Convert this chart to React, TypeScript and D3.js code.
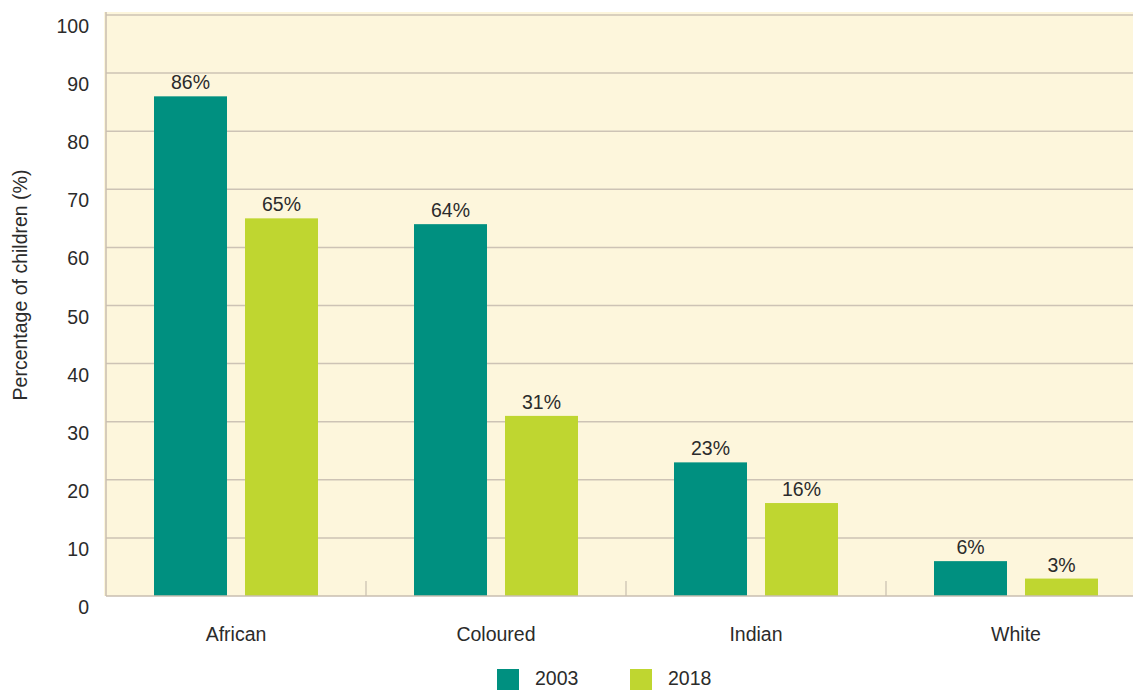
import React from "react";
import * as d3 from "d3";

const categories = ["African", "Coloured", "Indian", "White"];
const series = ["2003", "2018"];
const values2003 = [86, 64, 23, 6];
const values2018 = [65, 31, 16, 3];
const yTicks = [0, 10, 20, 30, 40, 50, 60, 70, 80, 90, 100];
const colors = ["#009080", "#bfd630"];

export default function App() {
  const W = 1133, H = 690;
  const left = 106, top = 15, bottom = 596, bandW = 260;
  const x = d3.scaleBand<string>().domain(categories).range([left, left + bandW * categories.length]).paddingInner(0).paddingOuter(0);
  const y = d3.scaleLinear().domain([0, 100]).range([bottom, top]);
  const inner = d3.scaleBand<string>().domain(series).range([48, bandW - 48]).paddingInner(18 / 91);
  const font = "'Liberation Sans', Arial, Helvetica, sans-serif";
  const fs = 19.5;
  const data = [values2003, values2018];
  return (
    <svg width={W} height={H} style={{ position: "absolute", left: 0, top: 0 }} fontFamily={font}>
      <rect x={104} y={12} width={W - 104} height={bottom - 12} fill="#fdf6dc" />
      {yTicks.filter(t => t > 0).map(t => (
        <line key={t} x1={left} x2={W} y1={y(t)} y2={y(t)} stroke="#cdc3b5" strokeWidth={1.5} />
      ))}
      {yTicks.map(t => (
        <text key={"l" + t} x={89} y={y(t) + 18} textAnchor="end" fontSize={fs} fill="#2b2b2b">{t}</text>
      ))}
      {categories.map((c, i) => (
        <g key={c}>
          {series.map((s, j) => {
            const v = data[j][i];
            const bx = (x(c) as number) + (inner(s) as number);
            const bw = inner.bandwidth();
            return (
              <g key={s}>
                <rect x={bx} y={y(v)} width={bw} height={bottom - y(v)} fill={colors[j]} />
                <text x={bx + bw / 2} y={y(v) - 7} textAnchor="middle" fontSize={fs} fill="#2b2b2b">{v}%</text>
              </g>
            );
          })}
          <text x={(x(c) as number) + bandW / 2} y={641} textAnchor="middle" fontSize={fs} fill="#2b2b2b">{c}</text>
        </g>
      ))}
      {categories.slice(1).map(c => (
        <line key={"t" + c} x1={x(c) as number} x2={x(c) as number} y1={581} y2={bottom} stroke="#bdb3a6" strokeWidth={1} />
      ))}
      <line x1={left} x2={left} y1={12} y2={bottom} stroke="#c8beb0" strokeWidth={1.5} />
      <line x1={left} x2={W} y1={bottom} y2={bottom} stroke="#c8beb0" strokeWidth={1.5} />
      <text transform={`translate(27, 285) rotate(-90)`} textAnchor="middle" fontSize={fs} fill="#2b2b2b">Percentage of children (%)</text>
      {series.map((s, j) => (
        <g key={"lg" + s}>
          <rect x={497 + j * 133} y={669} width={22} height={22} fill={colors[j]} />
          <text x={535 + j * 133} y={685} fontSize={fs} fill="#2b2b2b">{s}</text>
        </g>
      ))}
    </svg>
  );
}
